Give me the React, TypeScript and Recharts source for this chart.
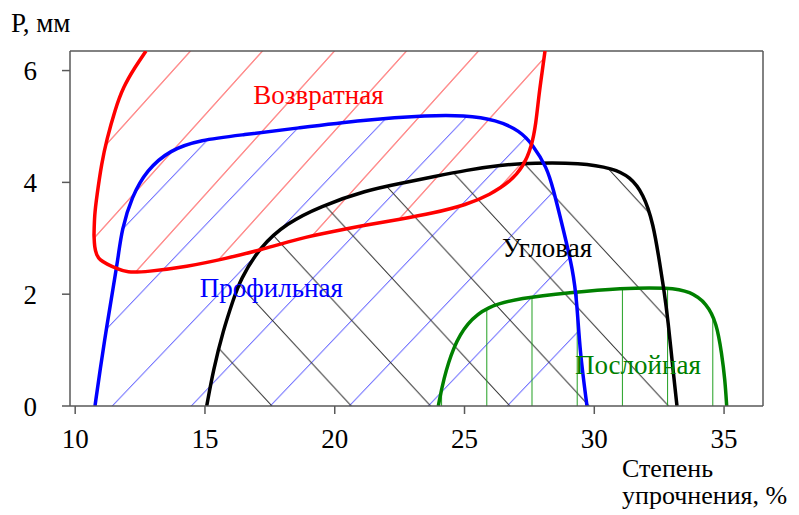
import {
  Area,
  ComposedChart,
  Label,
  Line,
  ReferenceDot,
  ReferenceLine,
  XAxis,
  YAxis,
} from "recharts";

const xTicks = [10, 15, 20, 25, 30, 35];
const yTicks = [0, 2, 4, 6];

// Возвратная: контур из двух ветвей и заштрихованная полоса между ними
const redUpperX = [10.725, 10.744, 10.829, 11.021, 11.214, 11.534, 11.854, 12.304, 12.728];
const redUpperY = [3.06, 3.42, 3.74, 4.35, 4.76, 5.3, 5.71, 6.06, 6.35];

const redLowerX = [
  10.725, 10.744, 10.821, 10.956, 11.214, 11.599, 11.985, 12.755, 14.296, 15.837, 17.12,
  18.661, 19.933, 21.231, 22.514, 23.786, 25.084, 25.982, 26.752, 27.265, 27.588, 27.754,
  27.858, 27.974, 28.101,
];
const redLowerY = [
  3.06, 2.84, 2.7, 2.61, 2.54, 2.46, 2.385, 2.4, 2.49, 2.64, 2.79, 3.0, 3.12, 3.24, 3.34,
  3.45, 3.6, 3.78, 4.01, 4.28, 4.64, 5.06, 5.53, 5.92, 6.35,
];

const redBandX = [
  10.725, 10.745, 10.82, 10.96, 11.21, 11.53, 11.85, 12.3, 12.73, 14.3, 15.84, 17.12, 18.66,
  19.93, 21.23, 22.51, 23.79, 25.08, 25.98, 26.75, 27.27, 27.59, 27.75, 27.86, 27.97, 28.1,
];
const redBandLow = [
  3.06, 2.84, 2.7, 2.61, 2.54, 2.48, 2.41, 2.39, 2.4, 2.49, 2.64, 2.79, 3.0, 3.12, 3.24, 3.34,
  3.45, 3.6, 3.78, 4.01, 4.28, 4.64, 5.06, 5.53, 5.92, 6.35,
];
const redBandHigh = [
  3.06, 3.42, 3.72, 4.17, 4.76, 5.29, 5.7, 6.06, 6.35, 6.35, 6.35, 6.35, 6.35, 6.35, 6.35,
  6.35, 6.35, 6.35, 6.35, 6.35, 6.35, 6.35, 6.35, 6.35, 6.35, 6.35,
];

// Профильная
const blueX = [
  10.763, 10.956, 11.214, 11.468, 11.661, 11.792, 12.177, 12.755, 13.653, 14.809, 16.465,
  18.534, 21.1, 23.67, 24.953, 26.24, 27.138, 27.638, 28.178, 28.409, 28.794, 29.18, 29.334,
  29.449, 29.719,
];
const blueY = [
  0, 0.64, 1.42, 2.13, 2.67, 3.15, 3.74, 4.22, 4.58, 4.76, 4.85, 4.97, 5.12, 5.2, 5.2, 5.12,
  4.92, 4.67, 4.26, 3.9, 3.18, 2.43, 1.84, 0.95, 0,
];

// Угловая
const blackX = [
  15.067, 15.321, 15.706, 16.092, 16.35, 17.12, 18.149, 19.432, 21.231, 22.514, 23.797,
  25.084, 26.367, 27.65, 29.449, 30.732, 31.376, 31.888, 32.273, 32.532, 32.686, 32.84,
  33.033, 33.186,
];
const blackY = [
  0, 0.64, 1.36, 1.9, 2.25, 2.85, 3.27, 3.57, 3.86, 3.98, 4.1, 4.22, 4.31, 4.35, 4.35, 4.25,
  4.1, 3.8, 3.27, 2.52, 2.07, 1.54, 0.64, 0,
];

// Послойная
const greenX = [
  23.99, 24.183, 24.568, 25.084, 25.855, 27.138, 29.064, 30.99, 32.917, 33.687, 34.331,
  34.716, 34.908, 35.036, 35.101,
];
const greenY = [
  0, 0.47, 1.06, 1.48, 1.78, 1.93, 2.03, 2.11, 2.12, 2.05, 1.84, 1.48, 0.94, 0.47, 0,
];

const zip = (xs: number[], ys: number[]) => xs.map((x, i) => ({ x, y: ys[i] }));

const redUpper = zip(redUpperX, redUpperY);
const redLower = zip(redLowerX, redLowerY);
const redBand = redBandX.map((x, i) => ({ x, range: [redBandLow[i], redBandHigh[i]] }));
const blue = zip(blueX, blueY);
const black = zip(blackX, blackY);
const green = zip(greenX, greenY);

const FONT = '"Liberation Serif", "Times New Roman", serif';
const FS = 27;
const AXIS = "#595959";
const CURVE = "basis";

// "/" and "\" hatch tiles
const slash = (p: number, h: number) =>
  `M0,${h} L${p},0 M${-p},${h} L${p},${-h} M0,${2 * h} L${2 * p},0`;
const backslash = (p: number, h: number) =>
  `M0,0 L${p},${h} M${-p},0 L${p},${2 * h} M0,${-h} L${2 * p},${h}`;

function textLabel(text: string, color: string) {
  return (props: any) => {
    const vb = props.viewBox;
    return (
      <text
        x={vb.x + vb.width / 2}
        y={vb.y + vb.height / 2}
        textAnchor="middle"
        fill={color}
        fontSize={FS}
        fontFamily={FONT}
      >
        {text}
      </text>
    );
  };
}

export default function App() {
  return (
    <div style={{ width: 791, height: 507, background: "#fff" }}>
      <ComposedChart width={791} height={507} margin={{ top: 43, right: 36, bottom: 69, left: 0 }}>
        <defs>
          <pattern id="hatchRed" patternUnits="userSpaceOnUse" x={182.5} y={43} width={72} height={80}>
            <path d={slash(72, 80)} stroke="#ff2020" strokeWidth={1} fill="none" />
          </pattern>
          <pattern id="hatchBlue" patternUnits="userSpaceOnUse" x={104.3} y={398} width={79} height={83}>
            <path d={slash(79, 83)} stroke="#3a3aff" strokeWidth={1} fill="none" />
          </pattern>
          <pattern id="hatchBlack" patternUnits="userSpaceOnUse" x={264} y={398} width={79.3} height={86}>
            <path d={backslash(79.3, 86)} stroke="#333333" strokeWidth={1} fill="none" />
          </pattern>
          <pattern id="hatchGreen" patternUnits="userSpaceOnUse" x={478.3} y={0} width={45.2} height={10}>
            <path d="M0.5,0 V10" stroke="#1f9e1f" strokeWidth={1} fill="none" />
          </pattern>
        </defs>

        <XAxis
          type="number"
          dataKey="x"
          domain={[9.8, 36.5]}
          ticks={xTicks}
          allowDataOverflow
          height={40}
          stroke={AXIS}
          strokeWidth={1.5}
          tickSize={8}
          tickMargin={15}
          tick={{ fill: "#000", fontSize: FS, fontFamily: FONT }}
        >
          <Label
            content={(props: any) => {
              const vb = props.viewBox;
              return (
                <text fill="#000" fontSize={26} fontFamily={FONT}>
                  <tspan x={vb.x + 552} y={vb.y + 71}>Степень</tspan>
                  <tspan x={vb.x + 552} y={vb.y + 98}>упрочнения, %</tspan>
                </text>
              );
            }}
          />
        </XAxis>
        <YAxis
          type="number"
          domain={[0, 6.35]}
          ticks={yTicks}
          allowDataOverflow
          width={62}
          stroke={AXIS}
          strokeWidth={1.5}
          tickSize={8}
          tickMargin={25}
          tick={{ fill: "#000", fontSize: FS, fontFamily: FONT }}
        >
          <Label
            content={(props: any) => {
              const vb = props.viewBox;
              return (
                <text x={vb.x + 3} y={vb.y - 19} fill="#000" fontSize={FS} fontFamily={FONT}>
                  Р, мм
                </text>
              );
            }}
          />
        </YAxis>

        <ReferenceLine y={6.35} stroke={AXIS} strokeWidth={1.5} ifOverflow="visible" />
        <ReferenceLine x={36.5} stroke={AXIS} strokeWidth={1.5} ifOverflow="visible" />

        <Area data={redBand} dataKey="range" type={CURVE} stroke="none" fill="url(#hatchRed)" fillOpacity={1} isAnimationActive={false} />
        <Area data={blue} dataKey="y" type={CURVE} stroke="none" fill="url(#hatchBlue)" fillOpacity={1} isAnimationActive={false} />
        <Area data={black} dataKey="y" type={CURVE} stroke="none" fill="url(#hatchBlack)" fillOpacity={1} isAnimationActive={false} />
        <Area data={green} dataKey="y" type={CURVE} stroke="none" fill="url(#hatchGreen)" fillOpacity={1} isAnimationActive={false} />

        <Line data={green} dataKey="y" type={CURVE} stroke="#008000" strokeWidth={3.5} dot={false} isAnimationActive={false} />
        <Line data={black} dataKey="y" type={CURVE} stroke="#000000" strokeWidth={3.5} dot={false} isAnimationActive={false} />
        <Line data={blue} dataKey="y" type={CURVE} stroke="#0000ff" strokeWidth={3.5} dot={false} isAnimationActive={false} />
        <Line data={redUpper} dataKey="y" type={CURVE} stroke="#ff0000" strokeWidth={3.5} dot={false} isAnimationActive={false} />
        <Line data={redLower} dataKey="y" type={CURVE} stroke="#ff0000" strokeWidth={3.5} dot={false} isAnimationActive={false} />

        <ReferenceDot x={19.37} y={5.4} r={0} fill="none" stroke="none" label={textLabel("Возвратная", "#ff0000")} />
        <ReferenceDot x={17.56} y={1.95} r={0} fill="none" stroke="none" label={textLabel("Профильная", "#0000ff")} />
        <ReferenceDot x={28.18} y={2.67} r={0} fill="none" stroke="none" label={textLabel("Угловая", "#000000")} />
        <ReferenceDot x={31.68} y={0.57} r={0} fill="none" stroke="none" label={textLabel("Послойная", "#008000")} />
      </ComposedChart>
    </div>
  );
}
